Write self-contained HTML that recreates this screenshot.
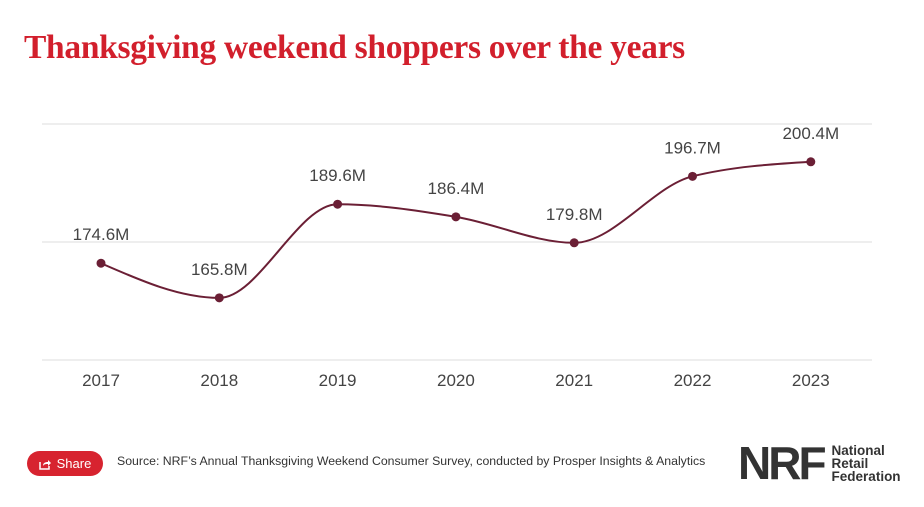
<!DOCTYPE html>
<html><head><meta charset="utf-8">
<style>
body{margin:0;background:#fff;width:924px;height:507px;overflow:hidden;font-family:"Liberation Sans",sans-serif;position:relative}
#title{position:absolute;left:24px;top:29px;font-family:"Liberation Serif",serif;font-weight:bold;font-size:33.5px;color:#d21f2c;letter-spacing:-0.3px;margin:0}
#share{position:absolute;left:27px;top:451px;width:76px;height:25px;border-radius:13px;background:#d7232f;color:#fff;font-size:13px;display:flex;align-items:center;justify-content:center;gap:6px}
#source{position:absolute;left:117px;top:454px;font-size:12.3px;color:#333}
#logo{position:absolute;left:738px;top:442px;display:flex;align-items:center}
#logo .nrf{font-size:46px;font-weight:bold;color:#333;letter-spacing:-3px;line-height:42px}
#logo .txt{font-size:13.5px;font-weight:bold;color:#333;line-height:13px;margin-left:8px}
</style></head><body>
<h1 id="title">Thanksgiving weekend shoppers over the years</h1>
<svg id="chart" width="924" height="420" style="position:absolute;left:0;top:0"></svg>
<div id="share"><svg width="12" height="12" viewBox="0 0 12 12"><path d="M1 4v7h9V8" fill="none" stroke="#fff" stroke-width="1.5"/><path d="M4 8c0-3 2-4 5-4V2l3 3-3 3V6c-2 0-4 0-5 2z" fill="#fff"/></svg>Share</div>
<div id="source">Source: NRF’s Annual Thanksgiving Weekend Consumer Survey, conducted by Prosper Insights &amp; Analytics</div>
<div id="logo"><span class="nrf">NRF</span><span class="txt">National<br>Retail<br>Federation</span></div>
<script>
const categories=["2017","2018","2019","2020","2021","2022","2023"];
const values=[174.6,165.8,189.6,186.4,179.8,196.7,200.4];
const labels=["174.6M","165.8M","189.6M","186.4M","179.8M","196.7M","200.4M"];
const yTicks=[150,180,210];
const svg=document.getElementById('chart');
const NS="http://www.w3.org/2000/svg";
const x=i=>101+i*118.3;
const y=v=>360-(v-150)*(118/30);
function mk(t,a){const e=document.createElementNS(NS,t);for(const k in a)e.setAttribute(k,a[k]);svg.appendChild(e);return e;}
yTicks.forEach(t=>{const l=mk('line',{x1:42,x2:872,y1:y(t),y2:y(t),stroke:'#ddd','stroke-width':1});

});
const px=values.map((v,i)=>x(i)),py=values.map(v=>y(v));const n=px.length;
const d=[],m=[];for(let i=0;i<n-1;i++)d.push((py[i+1]-py[i])/(px[i+1]-px[i]));
for(let i=0;i<n;i++){if(i==0)m.push(d[0]);else if(i==n-1)m.push(d[n-2]);else{if(d[i-1]*d[i]<=0)m.push(0);else{const h0=px[i]-px[i-1],h1=px[i+1]-px[i];const p=(d[i-1]*h1+d[i]*h0)/(h0+h1);m.push((Math.sign(d[i-1])+Math.sign(d[i]))*Math.min(Math.abs(d[i-1]),Math.abs(d[i]),0.5*Math.abs(p)));}}}
m[0]=(3*d[0]-m[1])/2;m[n-1]=(3*d[n-2]-m[n-2])/2;
let path=`M${px[0]},${py[0]}`;
for(let i=0;i<n-1;i++){const h=(px[i+1]-px[i])/3;path+=` C${px[i]+h},${py[i]+m[i]*h} ${px[i+1]-h},${py[i+1]-m[i+1]*h} ${px[i+1]},${py[i+1]}`;}
const ln=mk('path',{d:path,fill:'none',stroke:'#6b1f35','stroke-width':2});


values.forEach((v,i)=>{
const c=mk('circle',{cx:x(i),cy:y(v),r:4.5,fill:'#6b1f35'});


const t=mk('text',{x:x(i),y:y(v)-23,'text-anchor':'middle','font-size':17,fill:'#444','font-family':'Liberation Sans, sans-serif'});t.textContent=labels[i];


const xl=mk('text',{x:x(i),y:386,'text-anchor':'middle','font-size':17,fill:'#444','font-family':'Liberation Sans, sans-serif'});xl.textContent=categories[i];


});
</script>
</body></html>
